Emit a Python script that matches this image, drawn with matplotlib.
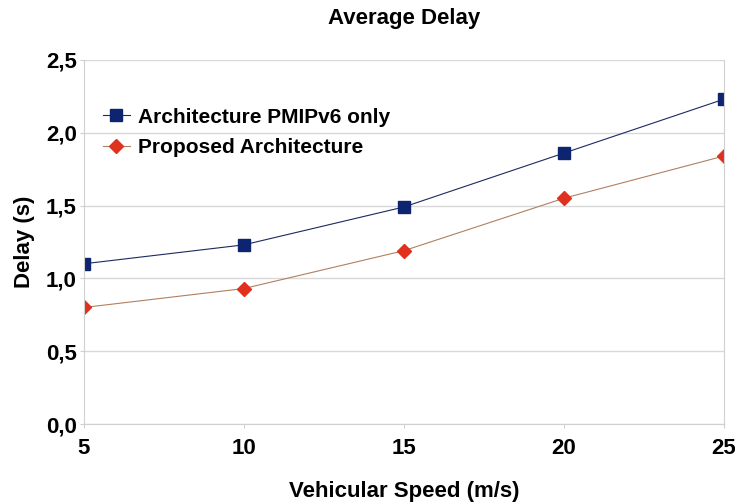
import matplotlib
matplotlib.use('Agg')
import matplotlib.pyplot as plt
from matplotlib.ticker import FuncFormatter

plt.rcParams['font.family'] = ['Liberation Sans', 'DejaVu Sans']
plt.rcParams['font.weight'] = 'bold'

speed = [5, 10, 15, 20, 25]
pmip_only = [1.10, 1.23, 1.49, 1.86, 2.23]
proposed = [0.80, 0.93, 1.19, 1.55, 1.84]
yticks = [0.0, 0.5, 1.0, 1.5, 2.0, 2.5]

fig = plt.figure(figsize=(7.35, 5.03), dpi=100)
ax = fig.add_axes((0.114, 0.157, 0.871, 0.724))

ax.plot(speed, pmip_only, color='#1b2a5e', lw=0.8, marker='s', ms=8,
        mfc='#0d2470', mec='#0d2470', label='Architecture PMIPv6 only')
ax.plot(speed, proposed, color='#b08060', lw=0.8, marker='D', ms=7,
        mfc='#e0301e', mec='#e0301e', label='Proposed Architecture')

ax.set_xlim(5, 25)
ax.set_ylim(0, 2.5)
ax.set_xticks(speed)
ax.set_yticks(yticks)
ax.yaxis.set_major_formatter(FuncFormatter(lambda v, p: f'{v:.1f}'.replace('.', ',')))
ax.grid(axis='y', color='#d8d8d8', lw=1)
ax.set_axisbelow(True)
ax.spines['top'].set_visible(False)
for s in ['left', 'right', 'bottom']:
    ax.spines[s].set_color('#d0d0d0')
ax.tick_params(axis='both', length=3, color='#d0d0d0', labelsize=16, pad=2)
ax.tick_params(axis='x', pad=7)

ax.set_title('Average Delay', fontsize=16, fontweight='bold', pad=26)
ax.set_xlabel('Vehicular Speed (m/s)', fontsize=16, fontweight='bold', labelpad=16)
ax.set_ylabel('Delay (s)', fontsize=16, fontweight='bold', labelpad=8)

ax.legend(loc='upper left', bbox_to_anchor=(0.0, 0.92), frameon=False,
          fontsize=15, handlelength=1.3, handletextpad=0.4, labelspacing=0.55)

plt.savefig('out.png', dpi=100)
